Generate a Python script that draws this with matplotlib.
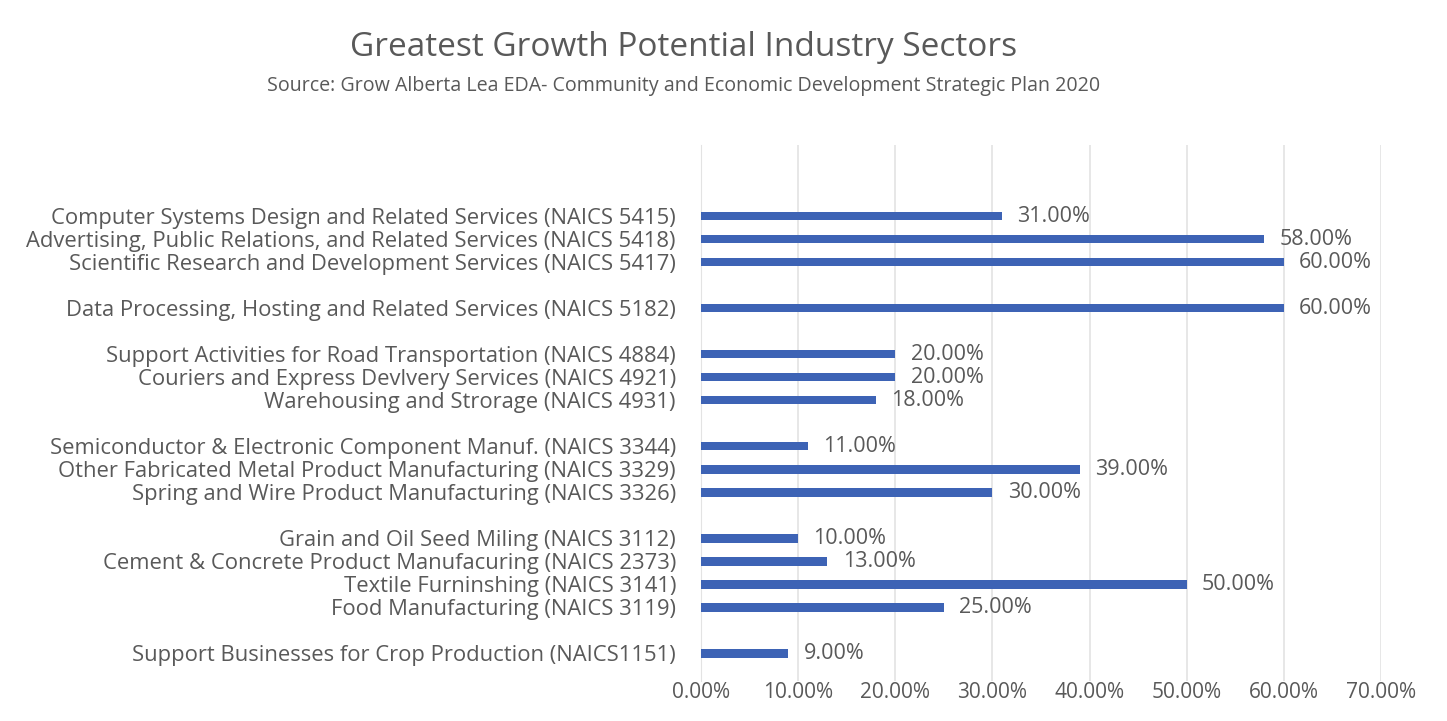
import matplotlib.pyplot as plt
from matplotlib.ticker import PercentFormatter

sectors = [
    "Computer Systems Design and Related Services (NAICS 5415)",
    "Advertising, Public Relations, and Related Services (NAICS 5418)",
    "Scientific Research and Development Services (NAICS 5417)",
    "Data Processing, Hosting and Related Services (NAICS 5182)",
    "Support Activities for Road Transportation (NAICS 4884)",
    "Couriers and Express Devlvery Services (NAICS 4921)",
    "Warehousing and Strorage (NAICS 4931)",
    "Semiconductor & Electronic Component Manuf. (NAICS 3344)",
    "Other Fabricated Metal Product Manufacturing (NAICS 3329)",
    "Spring and Wire Product Manufacturing (NAICS 3326)",
    "Grain and Oil Seed Miling (NAICS 3112)",
    "Cement & Concrete Product Manufacuring (NAICS 2373)",
    "Textile Furninshing (NAICS 3141)",
    "Food Manufacturing (NAICS 3119)",
    "Support Businesses for Crop Production (NAICS1151)",
]
growth = [0.31, 0.58, 0.60, 0.60, 0.20, 0.20, 0.18, 0.11, 0.39, 0.30,
          0.10, 0.13, 0.50, 0.25, 0.09]
# sector group, a blank row is left between groups
group = [0, 0, 0, 1, 2, 2, 2, 3, 3, 3, 4, 4, 4, 4, 5]

text_col = "#595959"
bar_col = "#3d63b5"
plt.rcParams['font.family'] = ['Open Sans', 'DejaVu Sans']

fig = plt.figure(figsize=(14.47, 7.21), dpi=100)
ax = fig.add_axes([701 / 1447, 40 / 721, 680 / 1447, 536 / 721])

pos = [i + g for i, g in enumerate(group)]
ax.barh(pos, growth, height=0.36, color=bar_col, zorder=3)

for p, v in zip(pos, growth):
    ax.annotate(f"{v * 100:.2f}%", (v, p), xytext=(11, 0), textcoords="offset points",
                va="center", ha="left", fontsize=15.5, color=text_col)

ax.set_yticks(pos)
ax.set_yticklabels(sectors, fontsize=15.8, color=text_col)
ax.set_ylim(20.2, -3.1)
ax.set_xlim(0, 0.70)
ax.set_xticks([i / 10 for i in range(8)])
ax.xaxis.set_major_formatter(PercentFormatter(1.0, decimals=2))
ax.tick_params(axis="x", labelsize=15, colors=text_col, length=0, pad=1)
ax.tick_params(axis="y", length=0, pad=18)
ax.grid(axis="x", color="#e3e3e3", linewidth=1.2, zorder=0)
for s in ["top", "right", "bottom"]:
    ax.spines[s].set_visible(False)
ax.spines["left"].set_color("#e3e3e3")

fig.text(684 / 1447, 1 - 48 / 721, "Greatest Growth Potential Industry Sectors",
         ha="center", va="center", fontsize=24, color=text_col)
fig.text(684 / 1447, 1 - 86 / 721,
         "Source: Grow Alberta Lea EDA- Community and Economic Development Strategic Plan 2020",
         ha="center", va="center", fontsize=14.1, color=text_col)

fig.savefig("out.png", dpi=100, facecolor="white")
